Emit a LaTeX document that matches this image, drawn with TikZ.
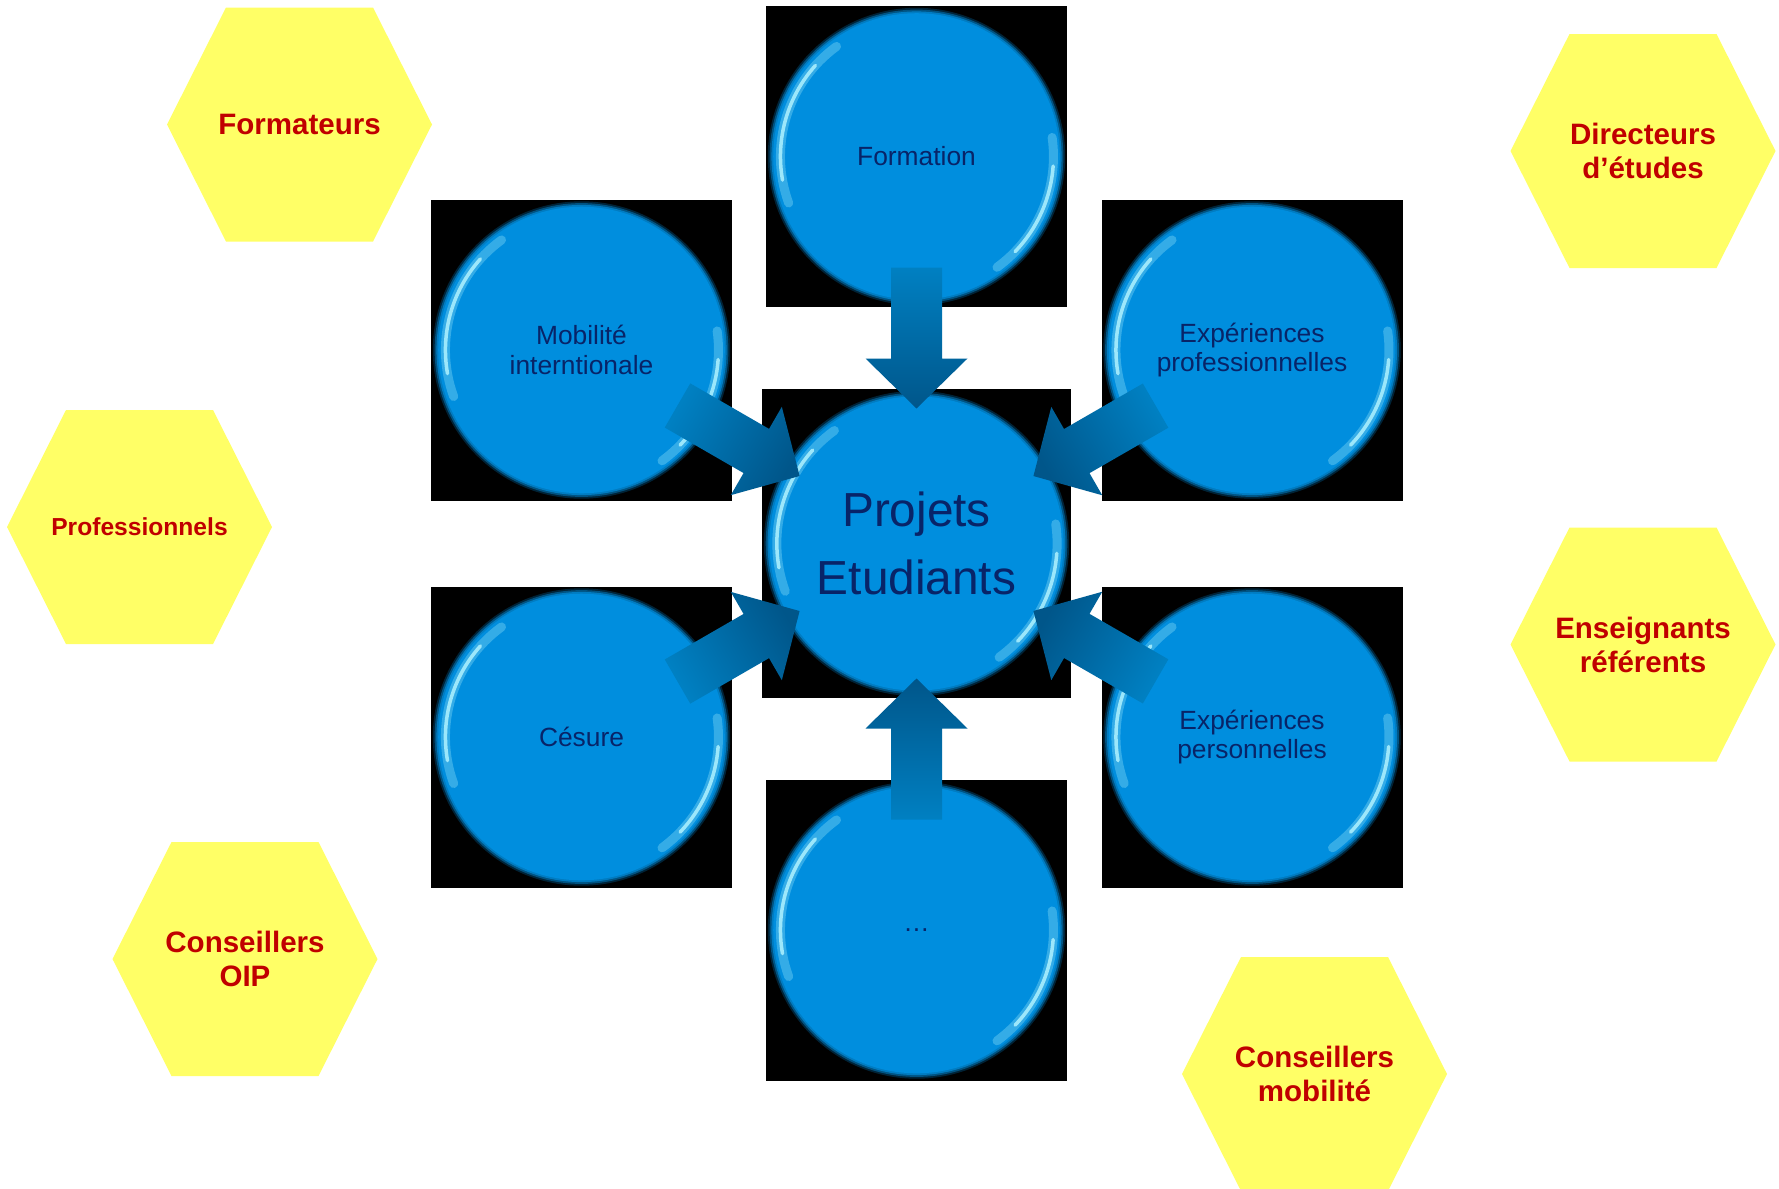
\documentclass[tikz,border=0pt]{standalone}
\usepackage{fontspec}
\setmainfont{Liberation Sans}
\usetikzlibrary{calc,backgrounds}

\definecolor{bubbleblue}{RGB}{0,142,222}
\definecolor{bubbleshine}{RGB}{175,242,255}
\definecolor{labelblue}{RGB}{8,36,104}
\definecolor{arrowlight}{RGB}{0,128,194}
\definecolor{arrowdark}{RGB}{0,86,138}
\definecolor{hexyellow}{RGB}{255,255,102}
\definecolor{hexred}{RGB}{192,0,0}

% grosse fleche d'une bulle vers le centre
\newcommand{\blockarrow}[2]{
	\coordinate (tip) at ($(projets)!1.35cm!(#1)$);
	\coordinate (base) at ($(projets)!1.85cm!(#1)$);
	\coordinate (tail) at ($(projets)!2.76cm!(#1)$);
	\shade[top color=arrowlight, bottom color=arrowdark, shading angle=#2]
		(tip) -- ($(base)!0.51cm!90:(tail)$) -- ($(base)!0.255cm!90:(tail)$)
		-- ($(tail)!0.255cm!-90:(base)$) -- ($(tail)!0.255cm!90:(base)$)
		-- ($(base)!0.255cm!-90:(tail)$) -- ($(base)!0.51cm!-90:(tail)$) -- cycle;
}

\begin{document}
\begin{tikzpicture}
			\tikzset{bubble/.style={rectangle, fill=black, minimum size=#1, inner sep=0pt,
				text=labelblue, align=center, font=\fontsize{7.5}{8.5}\selectfont,
				path picture={
					\fill[bubbleblue, opacity=0.25] (path picture bounding box.center) circle ({0.494*#1});
					\fill[bubbleblue, opacity=0.45] (path picture bounding box.center) circle ({0.488*#1});
					\fill[bubbleblue, opacity=0.7] (path picture bounding box.center) circle ({0.482*#1});
					\fill[bubbleblue] (path picture bounding box.center) circle ({0.476*#1});
					\draw[bubbleshine, line width=0.09cm, opacity=0.3, line cap=round]
						([shift={(126:{0.452*#1})}]path picture bounding box.center) arc[start angle=126, end angle=200, radius={0.452*#1}];
					\draw[bubbleshine, line width=0.035cm, opacity=0.85, line cap=round]
						([shift={(138:{0.452*#1})}]path picture bounding box.center) arc[start angle=138, end angle=190, radius={0.452*#1}];
					\draw[bubbleshine, line width=0.09cm, opacity=0.3, line cap=round]
						([shift={(-54:{0.455*#1})}]path picture bounding box.center) arc[start angle=-54, end angle=8, radius={0.455*#1}];
					\draw[bubbleshine, line width=0.035cm, opacity=0.85, line cap=round]
						([shift={(-44:{0.455*#1})}]path picture bounding box.center) arc[start angle=-44, end angle=-4, radius={0.455*#1}];
				}}}
			\tikzstyle{hexa}=[fill=hexyellow]
			\tikzstyle{hexlabel}=[text=hexred, align=center, font=\bfseries\fontsize{8.4}{9.7}\selectfont]
			
			\useasboundingbox (0,0) rectangle (17.79,11.88);
			
			\node at (9.165,6.445) [bubble=3.09cm, font=\fontsize{13.6}{19.3}\selectfont] (projets) {Projets\\Etudiants};
			\node at (9.165,10.315) [bubble=3.01cm] (formation) {Formation};
			\node at (5.815,8.38) [bubble=3.01cm] (mobilite) {Mobilité\\interntionale};
			\node at (12.52,8.38) [bubble=3.01cm] (exppro) {Expériences\\professionnelles};
			\node at (5.815,4.51) [bubble=3.01cm] (cesure) {Césure};
			\node at (12.52,4.51) [bubble=3.01cm] (expperso) {Expériences\\personnelles};
			\node at (9.165,2.58) [bubble=3.01cm] (autres) {…};
			
			\blockarrow{formation}{0}
			\blockarrow{exppro}{-60}
			\blockarrow{expperso}{-120}
			\blockarrow{autres}{180}
			\blockarrow{cesure}{120}
			\blockarrow{mobilite}{60}
			
			\node at (2.995,10.635) [hexlabel] (formateurs) {Formateurs};
			\node at (16.43,10.37) [hexlabel] (directeurs) {Directeurs\\d’études};
			\node at (1.395,6.61) [hexlabel, font=\bfseries\fontsize{7}{8}\selectfont] (professionnels) {Professionnels};
			\node at (16.43,5.435) [hexlabel] (enseignants) {Enseignants\\référents};
			\node at (2.45,2.29) [hexlabel] (oip) {Conseillers\\OIP};
			\node at (13.145,1.14) [hexlabel] (consmob) {Conseillers\\mobilité};
			
			\begin{scope}[on background layer]
				\fill[white] (0,0) rectangle (17.79,11.88);
				\foreach \n in {formateurs,directeurs,professionnels,enseignants,oip,consmob}
					\fill[hexa, shift={(\n)}] (-1.325,0) -- (-0.735,1.17) -- (0.735,1.17) -- (1.325,0) -- (0.735,-1.17) -- (-0.735,-1.17) -- cycle;
			\end{scope}
\end{tikzpicture}
\end{document}
